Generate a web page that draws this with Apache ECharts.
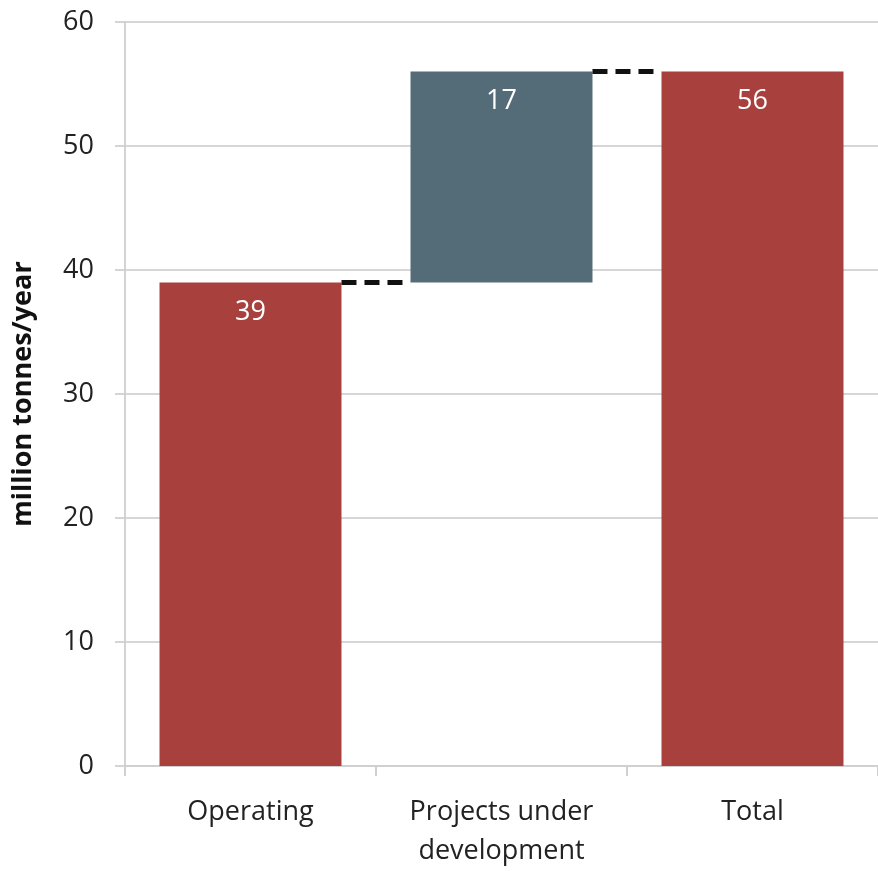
<!DOCTYPE html>
<html>
<head>
<meta charset="utf-8">
<script src="https://cdn.jsdelivr.net/npm/echarts@6/dist/echarts.min.js"></script>
<style>
  html, body { margin: 0; padding: 0; background: #fff; overflow: hidden; }
  #chart { width: 878px; height: 871px; }
</style>
</head>
<body>
<div id="chart"></div>
<script>
// Waterfall: operating capacity, projects under development, and total
const categories = ['Operating', 'Projects under\ndevelopment', 'Total'];
const baseValues = [0, 39, 0];      // invisible offset under each step
const stepValues = [39, 17, 56];    // visible bar heights (labelled)
const stepColors = ['#a8403e', '#546b78', '#a8403e'];
// connectors: [category index, level] drawn from bar i to bar i+1
const connectors = [[0, 39], [1, 56]];
const yTicks = { min: 0, max: 60, interval: 10 };

const BAR_RATIO = 0.725;
const FONT = '"Open Sans", sans-serif';

const chart = echarts.init(document.getElementById('chart'));
chart.setOption({
  animation: false,
  backgroundColor: '#fff',
  grid: { left: 125, width: 765, top: 22, height: 753, containLabel: false },
  xAxis: {
    type: 'category',
    data: categories,
    axisLine: { lineStyle: { color: '#d0d0d0', width: 2 } },
    axisTick: { show: true, length: 10, lineStyle: { color: '#d0d0d0', width: 2 } },
    axisLabel: { color: '#222', fontSize: 27, fontFamily: FONT, margin: 27, lineHeight: 39 }
  },
  yAxis: {
    type: 'value',
    min: yTicks.min, max: yTicks.max, interval: yTicks.interval,
    name: 'million tonnes/year',
    nameLocation: 'middle',
    nameGap: 88,
    nameTextStyle: { color: '#111', fontSize: 27, fontWeight: 'bold', fontFamily: FONT },
    axisLine: { show: true, lineStyle: { color: '#d3d3d3', width: 2 } },
    axisTick: { show: true, length: 10, lineStyle: { color: '#c8c8c8', width: 1.5 } },
    axisLabel: { color: '#222', fontSize: 27, fontFamily: FONT, margin: 31 },
    splitLine: { lineStyle: { color: '#c8c8c8', width: 1.5 } }
  },
  series: [
    {
      type: 'bar',
      stack: 'w',
      data: baseValues,
      barCategoryGap: '27.5%',
      itemStyle: { color: 'transparent' },
      silent: true
    },
    {
      type: 'bar',
      stack: 'w',
      data: stepValues.map((v, i) => ({ value: v, itemStyle: { color: stepColors[i] } })),
      barCategoryGap: '27.5%',
      label: {
        show: true,
        position: 'insideTop',
        distance: 16,
        color: '#fff',
        fontSize: 27,
        fontFamily: FONT
      }
    },
    {
      type: 'custom',
      data: connectors,
      renderItem: function (params, api) {
        const i = api.value(0);
        const level = api.value(1);
        const band = api.size([1, 0])[0];
        const half = band * BAR_RATIO / 2;
        const p1 = api.coord([i, level]);
        const p2 = api.coord([i + 1, level]);
        return {
          type: 'line',
          shape: { x1: p1[0] + half, y1: p1[1], x2: p2[0] - half, y2: p2[1] },
          style: { stroke: '#111', lineWidth: 5, lineDash: [15, 8] }
        };
      },
      z: 5
    }
  ]
});
</script>
</body>
</html>
